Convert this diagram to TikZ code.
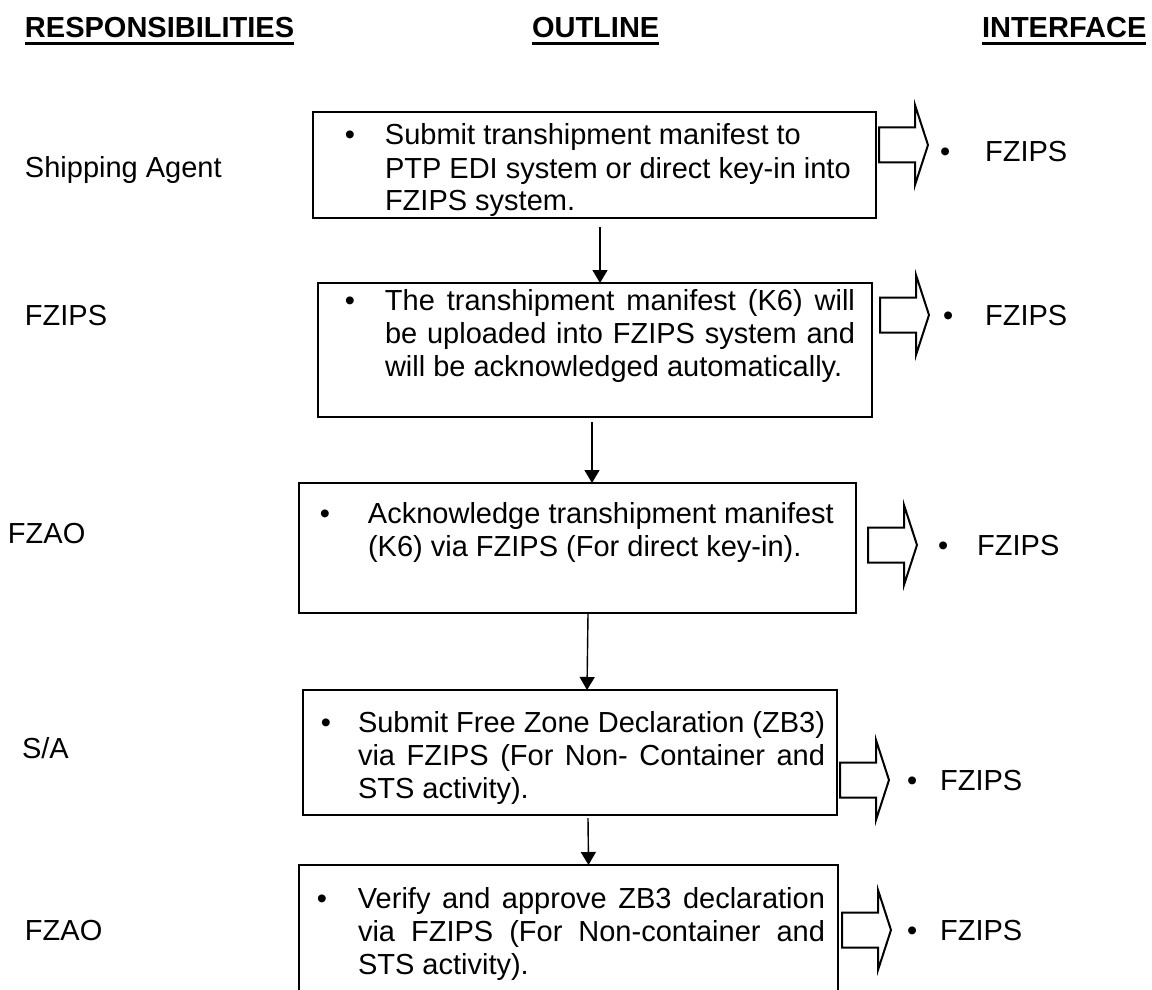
\documentclass[tikz,border=0pt]{standalone}
\usepackage{fontspec}
\setmainfont{Liberation Sans}
\usetikzlibrary{arrows.meta, positioning, fit}

\begin{document}
\begin{tikzpicture}[
  x=0.5pt, y=-0.5pt,
  txt/.style={inner sep=0pt, outer sep=0pt, font=\fontsize{14.5pt}{16.5pt}\selectfont},
  head/.style={txt, font=\fontsize{14.5pt}{16.5pt}\selectfont\bfseries, anchor=base west},
  lab/.style={txt, anchor=base west},
  item/.style={txt, align=left, anchor=north west},
  outline/.style={draw, line width=1pt, inner sep=0pt, outer sep=0pt},
  uline/.style={line width=1.5pt},
  flow/.style={-{Triangle[length=6.5pt, width=7.5pt]}, line width=0.7pt},
  pics/fatarrow/.style={code={
    \draw[line width=1pt, miter limit=20] (0,-17.5) -- (36,-17.5) -- (36,-40) -- (49,0)
      -- (36,40) -- (36,17.5) -- (0,17.5) -- cycle;
  }}
]
\useasboundingbox (0,0) rectangle (1152,990);

% column headings
\node[head] (resp) at (25,38) {RESPONSIBILITIES};
\node[head] (outl) at (532,38) {OUTLINE};
\node[head] (intf) at (982,38) {INTERFACE};
\foreach \h in {resp, outl, intf}
  \draw[uline] ([yshift=-2.6pt]\h.base west) -- ([yshift=-2.6pt]\h.base east);

% responsibilities
\node[lab] (r1) at (25,177) {Shipping Agent};
\node[lab] (r2) at (25,325) {FZIPS};
\node[lab] (r3) at (8,543) {FZAO};
\node[lab] (r4) at (22,758) {S/A};
\node[lab] (r5) at (25,940) {FZAO};

% outline boxes
\node[outline, fit={(313,112) (876,218)}] (b1) {};
\node[outline, fit={(318,283) (872,417)}] (b2) {};
\node[outline, fit={(299,483) (856,613)}] (b3) {};
\node[outline, fit={(303,690) (837,815)}] (b4) {};
\node[outline, fit={(299,865) (838,1010)}] (b5) {};

\node[item] (t1) at (385,121) {\llap{\textbullet\hspace{15pt}}\rule{0pt}{12pt}Submit transhipment manifest to\\
  PTP EDI system or direct key-in into\\FZIPS system.};
\node[item] (t2) at (385,286) {\llap{\textbullet\hspace{15pt}}\rule{0pt}{12pt}\makebox[235pt][s]{The transhipment manifest (K6) will}\\
  \makebox[235pt][s]{be uploaded into FZIPS system and}\\will be acknowledged automatically.};
\node[item] (t3) at (368,499) {\llap{\textbullet\hspace{19pt}}\rule{0pt}{12pt}Acknowledge transhipment manifest\\
  (K6) via FZIPS (For direct key-in).};
\node[item] (t4) at (358,708) {\llap{\textbullet\hspace{13.5pt}}\rule{0pt}{12pt}\makebox[233.5pt][s]{Submit Free Zone Declaration (ZB3)}\\
  \makebox[233.5pt][s]{via FZIPS (For Non- Container and}\\STS activity).};
\node[item] (t5) at (358,884) {\llap{\textbullet\hspace{15.5pt}}\rule{0pt}{12pt}\makebox[233.5pt][s]{Verify and approve ZB3 declaration}\\
  \makebox[233.5pt][s]{via FZIPS (For Non-container and}\\STS activity).};

\draw[flow] ([shift={(5.5,9)}]b1.south) -- ([shift={(5,0)}]b2.north);
\draw[flow] ([shift={(-3,5)}]b2.south) -- ([shift={(14.5,0)}]b3.north);
\draw[flow] ([shift={(10.5,1)}]b3.south) -- ([shift={(17,0)}]b4.north);
\draw[flow] ([shift={(18,3)}]b4.south) -- ([shift={(20,0)}]b5.north);

% interface
\pic (a1) at (879,145) {fatarrow};
\pic (a2) at (880,315) {fatarrow};
\pic (a3) at (868,545) {fatarrow};
\pic (a4) at (840,780) {fatarrow};
\pic (a5) at (842,930) {fatarrow};

\node[lab] (i1) at (940,162) {\textbullet\hspace{17.5pt}FZIPS};
\node[lab] (i2) at (943,325) {\textbullet\hspace{16pt}FZIPS};
\node[lab] (i3) at (938,555) {\textbullet\hspace{14.5pt}FZIPS};
\node[lab] (i4) at (907,790) {\textbullet\hspace{11.5pt}FZIPS};
\node[lab] (i5) at (907,940) {\textbullet\hspace{11.5pt}FZIPS};

\end{tikzpicture}
\end{document}
